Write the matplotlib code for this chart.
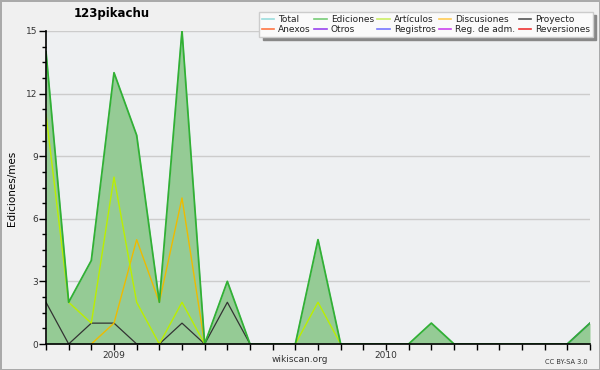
import numpy as np
import matplotlib
matplotlib.use("Agg")
import matplotlib.pyplot as plt
from matplotlib.lines import Line2D
from matplotlib.ticker import MultipleLocator

nan = np.nan

# meses: oct 2008 .. oct 2010
months = np.arange(25)
year_ticks = [3, 15]
year_labels = ["2009", "2010"]

total = [14, 2, 4, 13, 10, 2, 15, 0, 3, 0, 0, 0, 5, 0, 0, 0, 0, 1, 0, 0, 0, 0, 0, 0, 1]
ediciones = total
articulos = [11, 2, 1, 8, 2, 0, 2, 0, nan, nan, nan, 0, 2, 0,
             nan, nan, nan, nan, nan, nan, nan, nan, nan, nan, nan]
discusiones = [nan, nan, 0, 1, 5, 2, 7, 0, nan, nan, nan, nan, nan, nan,
               nan, nan, nan, nan, nan, nan, nan, nan, nan, nan, nan]
proyecto = [2, 0, 1, 1, 0, 0, 1, 0, 2, 0, nan, nan, nan, nan,
            nan, nan, nan, nan, nan, nan, nan, nan, nan, nan, nan]
otros = [nan] * 23 + [0, 1]

legend_names = ["Total", "Ediciones", "Artículos", "Discusiones", "Proyecto",
                "Anexos", "Otros", "Registros", "Reg. de adm.", "Reversiones"]
legend_colors = ["#99dddd", "#77cc77", "#ccee66", "#ffcc55", "#555555",
                 "#ff7744", "#9944ee", "#7777ff", "#cc44ee", "#ee3333"]

fig = plt.figure(figsize=(6, 3.7), dpi=100)
fig.patch.set_facecolor("#f0f0f0")
fig.patch.set_edgecolor("#aaaaaa")
fig.patch.set_linewidth(2)

ax = fig.add_axes([46 / 600, 1 - 344 / 370, 544 / 600, 313 / 370])
ax.set_facecolor("#eef0f2")

ax.fill_between(months, 0, ediciones, color="#95cb95", lw=0, zorder=1)
ax.plot(months, total, color="#99dddd", lw=1, zorder=2)
ax.plot(months, proyecto, color="#333333", lw=0.9, zorder=3)
ax.plot(months, discusiones, color="#eebb00", lw=1, zorder=3)
ax.plot(months, articulos, color="#bbee00", lw=1, zorder=4)
ax.plot(months, otros, color="#6644dd", lw=1.1, zorder=4)
ax.plot(months, ediciones, color="#33b033", lw=1.3, zorder=5)

ax.set_xlim(0, 24)
ax.set_ylim(0, 15)
ax.set_xticks(months)
ax.set_xticklabels([year_labels[year_ticks.index(m)] if m in year_ticks else "" for m in months])
ax.yaxis.set_major_locator(MultipleLocator(3))
ax.yaxis.set_minor_locator(MultipleLocator(0.75))
ax.tick_params(axis="x", length=4, width=1, labelsize=6.5, pad=1, labelcolor="#333333")
ax.tick_params(axis="y", which="major", length=5, width=1, labelsize=6.5, pad=1,
               labelcolor="#333333")
ax.tick_params(axis="y", which="minor", length=3, width=1)
ax.grid(axis="y", color="#cccccc", lw=1)
ax.set_axisbelow(True)
for s in ["top", "right"]:
    ax.spines[s].set_visible(False)
for s in ["left", "bottom"]:
    ax.spines[s].set_linewidth(1.2)
    ax.spines[s].set_zorder(6)

fig.text(112 / 600, 1 - 13 / 370, "123pikachu", ha="center", va="center",
         fontsize=8.5, fontweight="bold")
fig.text(12 / 600, 1 - 188 / 370, "Ediciones/mes", ha="center", va="center",
         rotation=90, fontsize=7.5)
fig.text(300 / 600, 1 - 360 / 370, "wikiscan.org", ha="center", va="center",
         fontsize=6.5, color="#333333")
fig.text(588 / 600, 1 - 362 / 370, "CC BY-SA 3.0", ha="right", va="center",
         fontsize=4.8, color="#333333")

handles = [Line2D([], [], color=c, lw=1.2) for c in legend_colors]
order = [0, 5, 1, 6, 2, 7, 3, 8, 4, 9]
leg = fig.legend([handles[i] for i in order], [legend_names[i] for i in order],
                 ncol=5, loc="upper right", bbox_to_anchor=(593 / 600, 1 - 12 / 370),
                 fontsize=6.5, frameon=True, fancybox=False, framealpha=1,
                 edgecolor="#cccccc", facecolor="#fafafa",
                 shadow={"ox": 2.5, "oy": -2.5, "color": "#888888", "alpha": 1},
                 handlelength=1.35, handletextpad=0.45, columnspacing=0.4,
                 labelspacing=0.15, borderpad=0.3, borderaxespad=0)
for t in leg.get_texts():
    t.set_color("#222222")

fig.savefig("out.png", dpi=100, facecolor=fig.get_facecolor(), edgecolor=fig.get_edgecolor())
